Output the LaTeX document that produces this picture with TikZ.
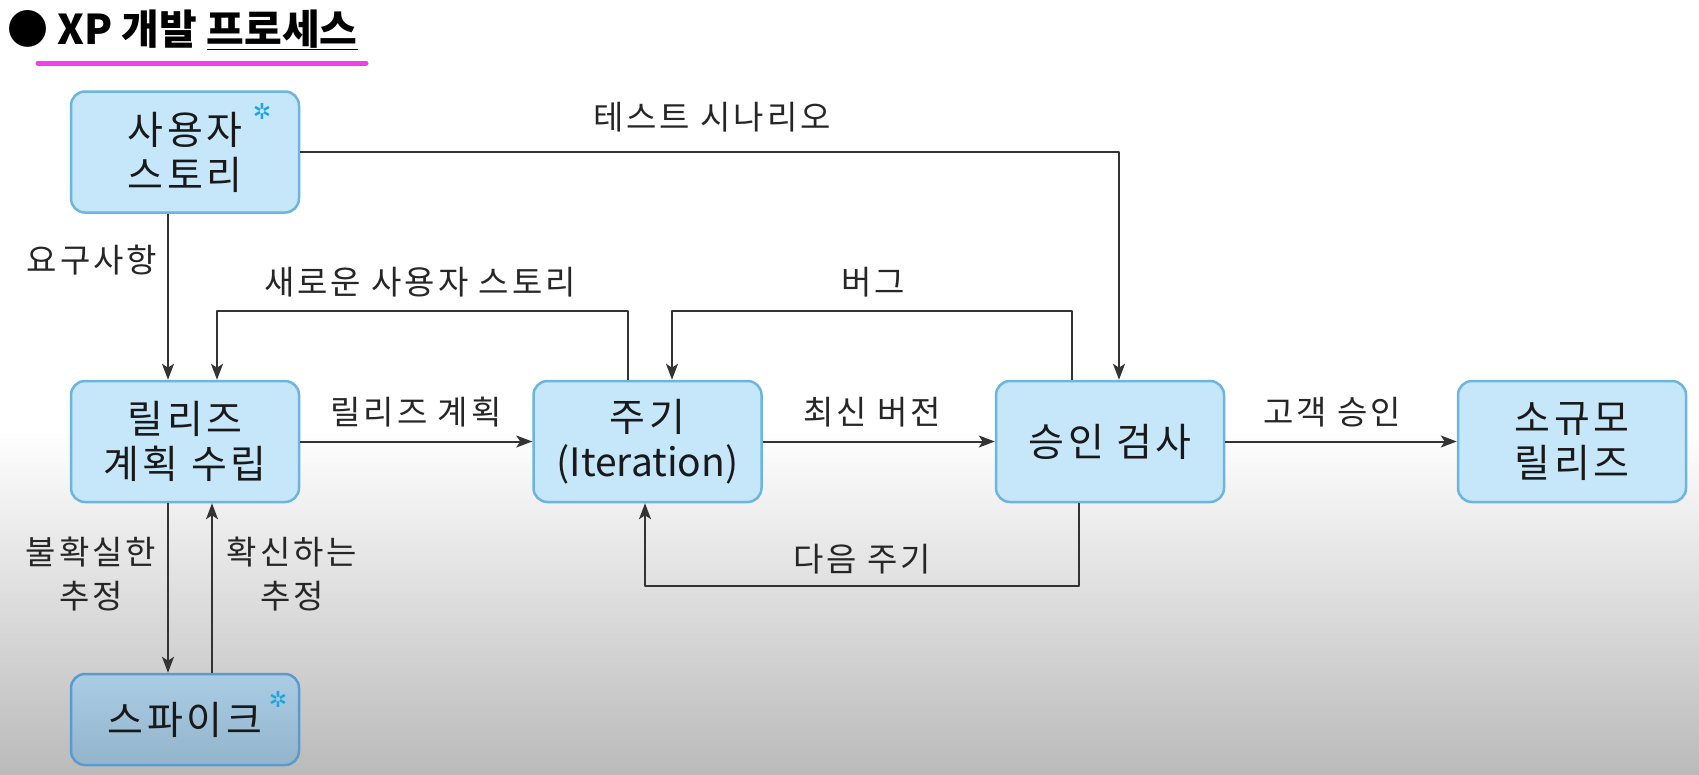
\documentclass[tikz,border=0pt]{standalone}
\usepackage{fontspec}
\setmainfont{Noto Sans CJK KR}
\newfontfamily\symfont{DejaVu Sans}
\newfontfamily\widefont[LetterSpace=9]{Noto Sans CJK KR}
\usetikzlibrary{arrows.meta}
\definecolor{boxfill}{HTML}{C6E6F9}
\definecolor{boxline}{HTML}{6BB5DE}
\definecolor{spiketop}{HTML}{AACDE5}
\definecolor{spikebot}{HTML}{93B4CB}
\definecolor{spikeline}{HTML}{5B9BCB}
\definecolor{linecol}{HTML}{333333}
\definecolor{starcol}{HTML}{1BA6DF}
\definecolor{penmark}{HTML}{F23FEA}
\begin{document}
\begin{tikzpicture}[x=1pt,y=-1pt,line join=round,>={Stealth[length=16pt,width=12pt,inset=4pt]},line width=2pt]
	\tikzset{box/.style={draw=boxline,fill=boxfill,line width=2.5pt,rounded corners=14pt,minimum width=228pt,minimum height=121pt,align=center,font=\widefont\fontsize{39}{45}\selectfont,text=black!90,inner sep=0pt},
		spikebox/.style={box,minimum height=91pt,draw=spikeline,top color=spiketop,bottom color=spikebot},
		lbl/.style={font=\widefont\fontsize{33}{44}\selectfont,text=black!85,align=center,inner sep=0pt},
		star/.style={font=\symfont\fontsize{22}{22}\selectfont,text=starcol,inner sep=0pt},
		conn/.style={draw=linecol,->}}
	\useasboundingbox (0,0) rectangle (1699,774);
	\fill[white] (0,0) rectangle (1699,774);
	\shade[top color=white,bottom color=black!27] (0,430) rectangle (1699,774);
	% title
	\node[anchor=west,font=\bfseries\fontsize{41}{41}\selectfont,inner sep=0pt] (title) at (6,30) {● XP 개발 \underline{프로세스}};
	\draw[penmark,line width=5pt,line cap=round] (38,63) -- (366,63);
	% boxes
	\node[box] (story) at (185,152) {사용자\\스토리};
	\node[star] (storystar) at (262,111) {✲};
	\node[box] (plan) at (185,441.5) {릴리즈\\계획 수립};
	\node[box] (iter) at (647.5,441.5) {주기\\{\normalfont\fontsize{39}{45}\selectfont(Iteration)}};
	\node[box] (accept) at (1110,441.5) {승인 검사};
	\node[box] (release) at (1572,441.5) {소규모\\릴리즈};
	\node[spikebox] (spike) at (185,719.5) {스파이크};
	\node[star] (spikestar) at (278,699) {✲};
	% connectors
	\draw[conn] (story.east) -| ([xshift=9pt]accept.north);
	\draw[conn] ([xshift=-17pt]story.south) -- ([xshift=-17pt]plan.north);
	\draw[conn] ([xshift=-19.5pt]iter.north) -- ++(0,-69) -| ([xshift=32pt]plan.north);
	\draw[conn] ([xshift=-38pt]accept.north) -- ++(0,-69) -| ([xshift=24.5pt]iter.north);
	\draw[conn] (plan.east) -- (iter.west);
	\draw[conn] (iter.east) -- (accept.west);
	\draw[conn] (accept.east) -- (release.west);
	\draw[conn] ([xshift=-31pt]accept.south) -- ++(0,83) -| ([xshift=-2.5pt]iter.south);
	\draw[conn,line width=1.5pt] ([xshift=-17pt]plan.south) -- ([xshift=-17pt]spike.north);
	\draw[conn,line width=1.5pt] ([xshift=27pt]spike.north) -- ([xshift=27pt]plan.south);
	% labels
	\node[lbl] (scenario) at (712,117) {테스트 시나리오};
	\node[lbl] (req) at (92,260) {요구사항};
	\node[lbl] (newstory) at (420,282) {새로운 사용자 스토리};
	\node[lbl] (bug) at (873,282) {버그};
	\node[lbl] (planlbl) at (416,412) {릴리즈 계획};
	\node[lbl] (latest) at (872,412) {최신 버전};
	\node[lbl] (approve) at (1332,412) {고객 승인};
	\node[lbl] (nextlbl) at (862,559) {다음 주기};
	\node[lbl] (unsure) at (91,574) {불확실한\\추정};
	\node[lbl] (sure) at (292,574) {확신하는\\추정};
\end{tikzpicture}
\end{document}
